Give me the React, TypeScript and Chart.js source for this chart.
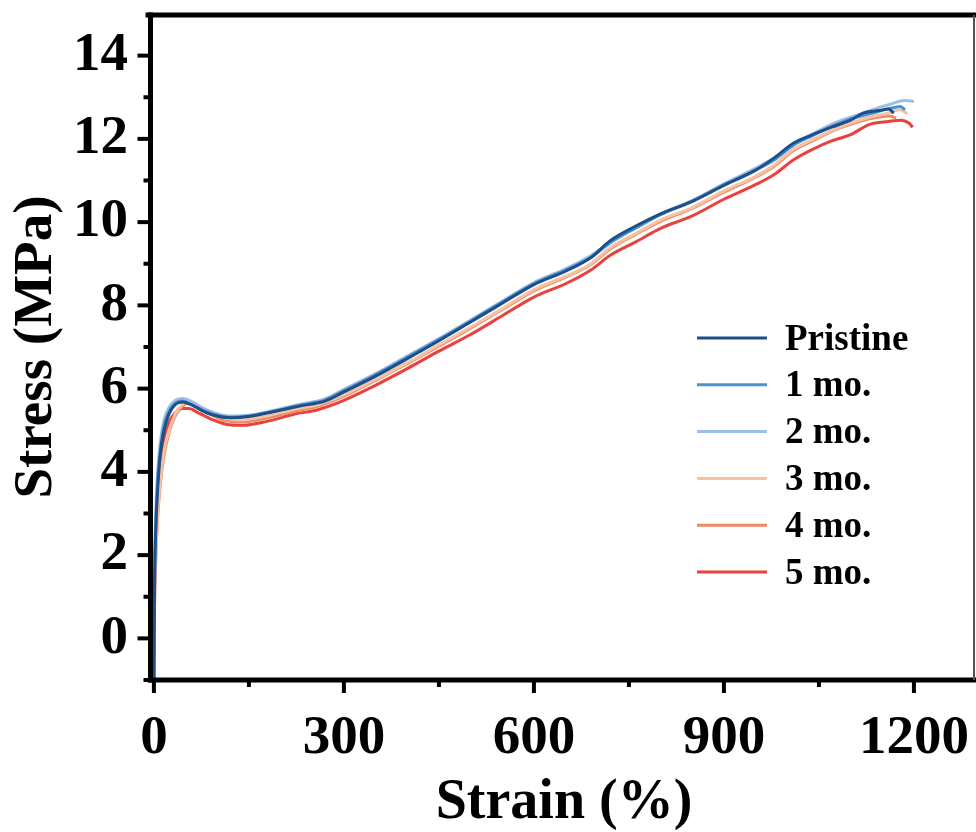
import React, { useEffect, useRef } from "react";
import { Chart, registerables } from "chart.js";

Chart.register(...registerables);

const seriesLabels = ["Pristine", "1 mo.", "2 mo.", "3 mo.", "4 mo.", "5 mo."];
const seriesColors = ["#1d4f8b", "#4b93cb", "#9dbfe6", "#f6c2a4", "#ee8966", "#e8423f"];

const xTickValues = [0, 300, 600, 900, 1200];
const xMinorValues = [0, 150, 300, 450, 600, 750, 900, 1050, 1200];
const yTickValues = [0, 2, 4, 6, 8, 10, 12, 14];
const yMinorValues = [-1, 0, 1, 2, 3, 4, 5, 6, 7, 8, 9, 10, 11, 12, 13, 14];

const pristine: number[][] = [
  [0, -1], [1, 1.2], [3, 2.6], [6, 3.6], [10, 4.4], [16, 5.0], [24, 5.4], [34, 5.62], [45, 5.68], [58, 5.62],
  [75, 5.48], [95, 5.36], [120, 5.3], [150, 5.33], [190, 5.45], [230, 5.58], [270, 5.7], [300, 5.92], [350, 6.3],
  [400, 6.72], [450, 7.15], [500, 7.6], [550, 8.05], [600, 8.5], [650, 8.82], [690, 9.15], [720, 9.55], [760, 9.9],
  [800, 10.2], [850, 10.5], [900, 10.88], [950, 11.25], [980, 11.55], [1010, 11.9], [1040, 12.1], [1070, 12.28],
  [1100, 12.45], [1120, 12.62], [1145, 12.68], [1160, 12.72], [1168, 12.62],
];
const mo1: number[][] = [
  [0, -1], [1, 1.3], [3, 2.8], [6, 3.8], [10, 4.5], [16, 5.1], [24, 5.45], [34, 5.65], [45, 5.7], [58, 5.63],
  [75, 5.5], [95, 5.38], [120, 5.31], [150, 5.34], [190, 5.46], [230, 5.6], [270, 5.72], [300, 5.95], [350, 6.33],
  [400, 6.75], [450, 7.18], [500, 7.62], [550, 8.08], [600, 8.52], [650, 8.85], [690, 9.15], [720, 9.5], [760, 9.85],
  [800, 10.18], [850, 10.5], [900, 10.9], [950, 11.25], [980, 11.5], [1010, 11.85], [1040, 12.08], [1070, 12.3],
  [1100, 12.48], [1130, 12.6], [1160, 12.72], [1178, 12.78], [1186, 12.7],
];
const mo2: number[][] = [
  [0, -1], [1, 1.4], [3, 3.0], [6, 4.0], [10, 4.7], [16, 5.25], [24, 5.55], [34, 5.72], [45, 5.76], [58, 5.7],
  [75, 5.55], [95, 5.42], [120, 5.34], [150, 5.36], [190, 5.48], [230, 5.62], [270, 5.75], [300, 5.98], [350, 6.36],
  [400, 6.78], [450, 7.2], [500, 7.65], [550, 8.1], [600, 8.55], [650, 8.88], [690, 9.2], [720, 9.5], [760, 9.88],
  [800, 10.2], [850, 10.52], [900, 10.92], [950, 11.3], [980, 11.55], [1010, 11.88], [1040, 12.12], [1070, 12.35],
  [1100, 12.52], [1130, 12.68], [1160, 12.82], [1185, 12.92], [1200, 12.9],
];
const mo3: number[][] = [
  [0, -1], [1, 0.8], [3, 2.0], [6, 3.0], [10, 3.8], [16, 4.5], [24, 5.0], [34, 5.4], [45, 5.62], [56, 5.7],
  [70, 5.6], [90, 5.42], [115, 5.28], [140, 5.25], [180, 5.35], [220, 5.5], [260, 5.62], [300, 5.85], [350, 6.22],
  [400, 6.62], [450, 7.05], [500, 7.48], [550, 7.92], [600, 8.38], [650, 8.7], [690, 9.0], [720, 9.38], [760, 9.72],
  [800, 10.05], [850, 10.35], [900, 10.75], [950, 11.1], [980, 11.38], [1010, 11.75], [1040, 11.98], [1070, 12.2],
  [1100, 12.38], [1130, 12.52], [1160, 12.62], [1178, 12.7], [1190, 12.6],
];
const mo4: number[][] = [
  [0, -1], [1, 0.7], [3, 1.9], [6, 2.9], [10, 3.7], [16, 4.4], [24, 4.95], [34, 5.35], [45, 5.58], [56, 5.66],
  [70, 5.57], [90, 5.38], [115, 5.22], [140, 5.2], [180, 5.3], [220, 5.45], [260, 5.58], [300, 5.82], [350, 6.2],
  [400, 6.6], [450, 7.02], [500, 7.45], [550, 7.9], [600, 8.35], [650, 8.68], [690, 8.98], [720, 9.35], [760, 9.7],
  [800, 10.02], [850, 10.33], [900, 10.72], [950, 11.08], [980, 11.35], [1010, 11.72], [1040, 11.95], [1070, 12.18],
  [1100, 12.35], [1130, 12.48], [1160, 12.55], [1172, 12.5],
];
const mo5: number[][] = [
  [0, -1], [1, 1.0], [3, 2.4], [6, 3.4], [10, 4.2], [16, 4.8], [24, 5.2], [34, 5.42], [45, 5.52], [55, 5.52],
  [70, 5.42], [90, 5.27], [115, 5.14], [140, 5.12], [180, 5.22], [220, 5.38], [260, 5.5], [300, 5.72], [350, 6.08],
  [400, 6.48], [450, 6.9], [500, 7.3], [550, 7.75], [600, 8.2], [650, 8.52], [690, 8.85], [720, 9.2], [760, 9.52],
  [800, 9.85], [850, 10.15], [900, 10.55], [950, 10.9], [980, 11.15], [1010, 11.5], [1040, 11.75], [1070, 11.95],
  [1100, 12.1], [1130, 12.35], [1160, 12.42], [1180, 12.45], [1192, 12.38], [1198, 12.28],
];

const allSeries = [pristine, mo1, mo2, mo3, mo4, mo5];

const FONT = "'Liberation Serif', 'Times New Roman', serif";

const zeroPad = (s: any) => {
  s.paddingTop = 0;
  s.paddingBottom = 0;
  s.paddingLeft = 0;
  s.paddingRight = 0;
};

const framePlugin = {
  id: "frame",
  afterDatasetsDraw(chart: any) {
    const { ctx, chartArea } = chart;
    const xs = chart.scales.x;
    const ys = chart.scales.y;
    const L = chartArea.left - 1.5;
    const B = chartArea.bottom;
    const T = chartArea.top + 1;
    const R = chartArea.right;
    ctx.save();
    ctx.strokeStyle = "#000";
    ctx.lineCap = "butt";
    ctx.lineWidth = 4;
    yMinorValues.forEach((v) => {
      const p = ys.getPixelForValue(v);
      const major = yTickValues.includes(v);
      ctx.beginPath();
      ctx.moveTo(L, p);
      ctx.lineTo(L - (major ? 13 : 7), p);
      ctx.stroke();
    });
    xMinorValues.forEach((v) => {
      const p = xs.getPixelForValue(v);
      const major = xTickValues.includes(v);
      ctx.beginPath();
      ctx.moveTo(p, B);
      ctx.lineTo(p, B + (major ? 13 : 7));
      ctx.stroke();
    });
    ctx.lineWidth = 5;
    ctx.beginPath();
    ctx.moveTo(L, T - 2.5);
    ctx.lineTo(L, B + 2.5);
    ctx.stroke();
    ctx.beginPath();
    ctx.moveTo(L - 5, T);
    ctx.lineTo(R, T);
    ctx.stroke();
    ctx.beginPath();
    ctx.moveTo(L - 2.5, B);
    ctx.lineTo(R, B);
    ctx.stroke();
    ctx.strokeStyle = "#555";
    ctx.lineWidth = 2;
    ctx.beginPath();
    ctx.moveTo(R - 2, T);
    ctx.lineTo(R - 2, B);
    ctx.stroke();

    ctx.font = `bold 37px ${FONT}`;
    ctx.textBaseline = "middle";
    ctx.textAlign = "left";
    chart.data.datasets.forEach((ds: any, i: number) => {
      const y = 338 + i * 46.8;
      ctx.strokeStyle = ds.borderColor;
      ctx.lineWidth = 3;
      ctx.beginPath();
      ctx.moveTo(697, y);
      ctx.lineTo(767, y);
      ctx.stroke();
      ctx.fillStyle = "#000";
      ctx.fillText(ds.label, 785, y + 2);
    });
    ctx.restore();
  },
};

export default function App() {
  const ref = useRef<HTMLCanvasElement | null>(null);
  useEffect(() => {
    if (!ref.current) return;
    const chart = new Chart(ref.current, {
      type: "line",
      data: {
        datasets: allSeries.map((s, i) => ({
          label: seriesLabels[i],
          data: s.map(([x, y]) => ({ x, y })),
          borderColor: seriesColors[i],
          backgroundColor: seriesColors[i],
          borderWidth: 3,
          pointRadius: 0,
          fill: false,
          cubicInterpolationMode: "monotone" as const,
        })),
      },
      options: {
        animation: false,
        responsive: false,
        events: [],
        layout: { padding: { top: 14, right: 0, left: 0, bottom: 0 } },
        plugins: { legend: { display: false }, tooltip: { enabled: false } },
        scales: {
          x: {
            type: "linear",
            min: -3,
            max: 1298,
            afterBuildTicks: (s: any) => {
              s.ticks = xTickValues.map((v) => ({ value: v }));
            },
            afterFit: (s: any) => {
              s.height = 152;
              zeroPad(s);
            },
            grid: { display: false },
            border: { display: false },
            ticks: {
              color: "#000",
              font: { family: FONT, size: 55, weight: "bold" },
              padding: 18,
              maxRotation: 0,
              autoSkip: false,
              callback: (v: any) => String(v),
            },
            title: {
              display: true,
              text: "Strain (%)",
              color: "#000",
              font: { family: FONT, size: 56, weight: "bold", lineHeight: 1 },
              padding: { top: 0, bottom: 0 },
            },
          },
          y: {
            type: "linear",
            min: -1,
            max: 15,
            afterBuildTicks: (s: any) => {
              s.ticks = yTickValues.map((v) => ({ value: v }));
            },
            afterFit: (s: any) => {
              s.width = 152;
              zeroPad(s);
            },
            grid: { display: false },
            border: { display: false },
            ticks: {
              color: "#000",
              font: { family: FONT, size: 55, weight: "bold" },
              padding: 16,
              autoSkip: false,
              callback: (v: any) => String(v),
            },
            title: {
              display: true,
              text: "Stress (MPa)",
              color: "#000",
              font: { family: FONT, size: 55, weight: "bold", lineHeight: 1 },
              padding: { top: 9, bottom: 0 },
            },
          },
        },
      },
      plugins: [framePlugin],
    });
    return () => chart.destroy();
  }, []);
  return (
    <div style={{ position: "absolute", left: 0, top: 0, width: 976, height: 832, background: "#fff" }}>
      <canvas ref={ref} width={976} height={832} style={{ display: "block" }} />
    </div>
  );
}
